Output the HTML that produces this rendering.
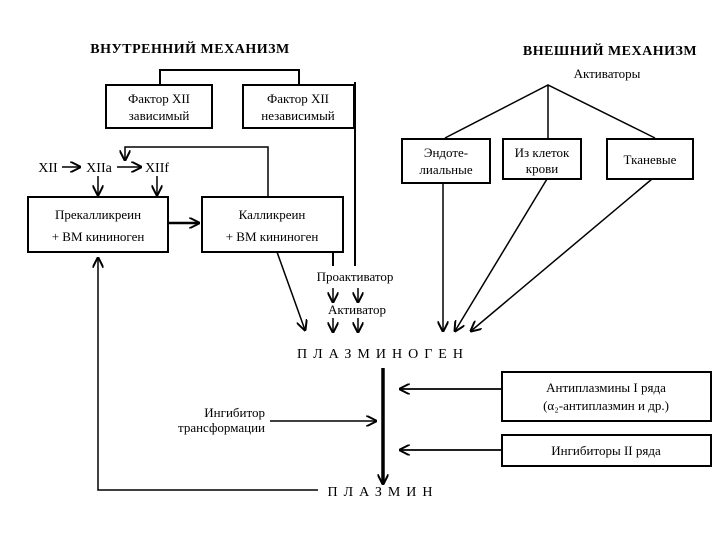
<!DOCTYPE html>
<html><head><meta charset="utf-8"><style>
body{margin:0;background:#fff}
svg text{font-family:"Liberation Serif","Noto Serif CJK SC",serif;fill:#000}
</style></head><body>
<svg width="720" height="540" viewBox="0 0 720 540" xmlns="http://www.w3.org/2000/svg">
<defs>
<marker id="a" viewBox="0 0 10 10" refX="9" refY="5" markerWidth="11" markerHeight="11" markerUnits="userSpaceOnUse" orient="auto-start-reverse">
<path d="M0,0 L10,5 L0,10" fill="none" stroke="#000" stroke-width="1.8"/></marker>
</defs>
<g stroke="#000" stroke-width="2" fill="none">
<text x="190" y="53" font-size="14" font-weight="bold" text-anchor="middle" stroke="none" letter-spacing="0.5">ВНУТРЕННИЙ МЕХАНИЗМ</text>
<text x="610" y="55" font-size="14" font-weight="bold" text-anchor="middle" stroke="none" letter-spacing="0.5">ВНЕШНИЙ МЕХАНИЗМ</text>
<path d="M160,85 V70 H299 V85"/>
<rect x="106" y="85" width="106" height="43"/>
<rect x="243" y="85" width="111" height="43"/>
<path d="M355,82 V266"/>
<path d="M268,197 V147 H125 V160" marker-end="url(#a)" stroke-width="1.5"/>
<path d="M62,167 H80" marker-end="url(#a)" stroke-width="1.5"/>
<path d="M117,167 H141" marker-end="url(#a)" stroke-width="1.5"/>
<path d="M98,176 V195" marker-end="url(#a)" stroke-width="1.5"/>
<path d="M157,176 V195" marker-end="url(#a)" stroke-width="1.5"/>
<rect x="28" y="197" width="140" height="55"/>
<rect x="202" y="197" width="141" height="55"/>
<path d="M168,223 H199" marker-end="url(#a)" stroke-width="2.5"/>
<path d="M277,252 L305,330" marker-end="url(#a)" stroke-width="1.5"/>
<path d="M333,252 V266"/>
<path d="M333,288 V302" marker-end="url(#a)" stroke-width="1.5"/>
<path d="M358,288 V302" marker-end="url(#a)" stroke-width="1.5"/>
<path d="M333,318 V332" marker-end="url(#a)" stroke-width="1.5"/>
<path d="M358,318 V332" marker-end="url(#a)" stroke-width="1.5"/>
<path d="M445,138 L548,85 L655,138 M548,85 V138" stroke-width="1.5"/>
<rect x="402" y="139" width="88" height="44"/>
<rect x="503" y="139" width="78" height="40"/>
<rect x="607" y="139" width="86" height="40"/>
<path d="M443,183 V331" marker-end="url(#a)" stroke-width="1.5"/>
<path d="M547,179 L455,331" marker-end="url(#a)" stroke-width="1.5"/>
<path d="M652,179 L471,331" marker-end="url(#a)" stroke-width="1.5"/>
<path d="M383,368 V484" marker-end="url(#a)" stroke-width="3.5"/>
<rect x="502" y="372" width="209" height="49"/>
<rect x="502" y="435" width="209" height="31"/>
<path d="M502,389 H400" marker-end="url(#a)" stroke-width="1.8"/>
<path d="M502,450 H400" marker-end="url(#a)" stroke-width="1.8"/>
<path d="M270,421 H376" marker-end="url(#a)" stroke-width="1.5"/>
<path d="M318,490 H98 V258" marker-end="url(#a)" stroke-width="1.5"/>
</g>
<g font-size="13" text-anchor="middle">
<text x="159" y="103">Фактор XII</text><text x="159" y="120">зависимый</text>
<text x="298" y="103">Фактор XII</text><text x="298" y="120">независимый</text>
<text x="48" y="172" font-size="14">XII</text>
<text x="99" y="172" font-size="14">XIIa</text>
<text x="157" y="172" font-size="14">XIIf</text>
<text x="98" y="219">Прекалликреин</text><text x="98" y="241">+ ВМ кининоген</text>
<text x="272" y="219">Калликреин</text><text x="272" y="241">+ ВМ кининоген</text>
<text x="355" y="281">Проактиватор</text>
<text x="357" y="314">Активатор</text>
<text x="607" y="78">Активаторы</text>
<text x="446" y="157">Эндоте-</text><text x="446" y="174">лиальные</text>
<text x="542" y="157">Из клеток</text><text x="542" y="173">крови</text>
<text x="650" y="164">Тканевые</text>
<text x="383" y="358" font-size="14" letter-spacing="6">ПЛАЗМИНОГЕН</text>
<text x="606" y="392">Антиплазмины I ряда</text><text x="606" y="410">(α₂-антиплазмин и др.)</text>
<text x="606" y="455">Ингибиторы II ряда</text>
<text x="265" y="417" text-anchor="end">Ингибитор</text><text x="265" y="432" text-anchor="end">трансформации</text>
<text x="383" y="496" font-size="14" letter-spacing="6">ПЛАЗМИН</text>
</g>
</svg>
</body></html>
